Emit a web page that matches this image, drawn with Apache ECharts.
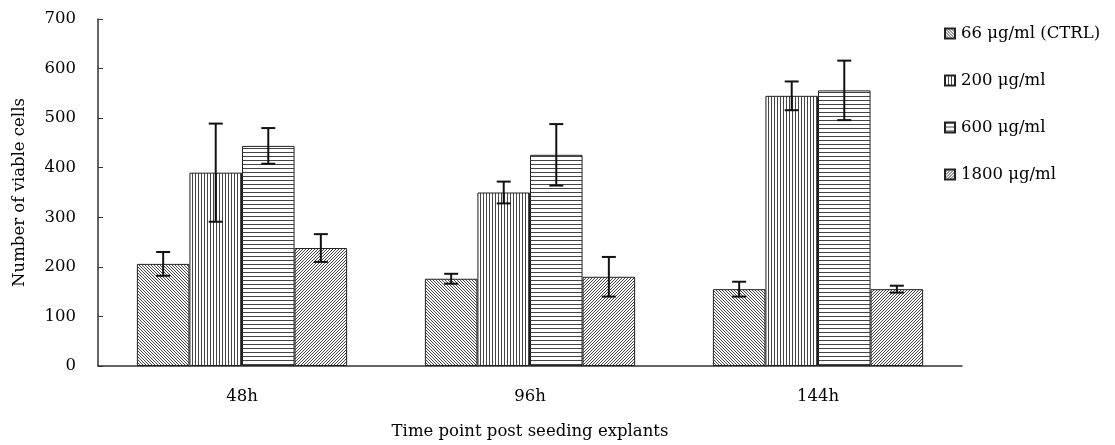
<!DOCTYPE html>
<html>
<head>
<meta charset="utf-8">
<title>Viable cells</title>
<script src="https://cdn.jsdelivr.net/npm/echarts@6/dist/echarts.min.js"></script>
<style>
  html, body { margin: 0; padding: 0; background: #fff; }
  #main { width: 1115px; height: 445px; }
</style>
</head>
<body>
<div id="main"></div>
<script>
// data
var timePoints = ['48h', '96h', '144h'];
var seriesNames = ['66 μg/ml (CTRL)', '200 μg/ml', '600 μg/ml', '1800 μg/ml'];
var ctrlMean = [206, 176, 155];
var ctrlErr = [24, 10, 15];
var dose200Mean = [390, 350, 545];
var dose200Err = [99, 22, 29];
var dose600Mean = [444, 426, 556];
var dose600Err = [36, 62, 60];
var dose1800Mean = [238, 180, 155];
var dose1800Err = [28, 40, 7];
var yTicks = { min: 0, max: 700, interval: 100 };

var means = [ctrlMean, dose200Mean, dose600Mean, dose1800Mean];
var errs = [ctrlErr, dose200Err, dose600Err, dose1800Err];
var catGap = 0.27;
var font = 'DejaVu Serif';
var fontSize = 16.5;

// hatch fills, drawn on small tiles
function makePattern(kind)
{
    var n = kind == 'h' ? 4 : 3;
    var c = document.createElement('canvas');
    c.width = n;
    c.height = n;
    var ctx = c.getContext('2d');
    ctx.fillStyle = '#fff';
    ctx.fillRect(0, 0, n, n);
    ctx.strokeStyle = '#444';
    ctx.lineWidth = 1;
    ctx.beginPath();
    if (kind == 'v') {
        ctx.moveTo(0.5, 0); ctx.lineTo(0.5, n);
    } else if (kind == 'h') {
        ctx.moveTo(0, 0.5); ctx.lineTo(n, 0.5);
    } else if (kind == 'back') {
        ctx.moveTo(-1, -1); ctx.lineTo(n + 1, n + 1);
        ctx.moveTo(-1, n - 1); ctx.lineTo(1, n + 1);
        ctx.moveTo(n - 1, -1); ctx.lineTo(n + 1, 1);
    } else {
        ctx.moveTo(-1, n + 1); ctx.lineTo(n + 1, -1);
        ctx.moveTo(-1, 1); ctx.lineTo(1, -1);
        ctx.moveTo(n - 1, n + 1); ctx.lineTo(n + 1, n - 1);
    }
    ctx.stroke();
    return { image: c, repeat: 'repeat' };
}

var fills = [makePattern('back'), makePattern('v'), makePattern('h'), makePattern('fwd')];

var errData = [];
for (var s = 0; s < means.length; s++) {
    for (var i = 0; i < timePoints.length; i++) {
        errData.push([i, s, means[s][i] - errs[s][i], means[s][i] + errs[s][i]]);
    }
}

var series = [];
for (var s = 0; s < means.length; s++) {
    series.push({
        name: seriesNames[s],
        type: 'bar',
        data: means[s],
        barGap: '0%',
        barCategoryGap: (catGap * 100) + '%',
        itemStyle: {
            color: fills[s],
            borderColor: '#222',
            borderWidth: 1
        },
        emphasis: { disabled: true }
    });
}

series.push({
    type: 'custom',
    data: errData,
    encode: { x: 0, y: [2, 3] },
    z: 5,
    silent: true,
    renderItem: function (params, api) {
        var idx = api.value(0);
        var band = api.size([1, 0])[0];
        var bw = band * (1 - catGap) / means.length;
        var cx = api.coord([idx, 0])[0] + (api.value(1) - (means.length - 1) / 2) * bw;
        var lo = api.coord([idx, api.value(2)])[1];
        var hi = api.coord([idx, api.value(3)])[1];
        var cap = 7;
        var st = { stroke: '#111', lineWidth: 2 };
        return {
            type: 'group',
            children: [
                { type: 'line', shape: { x1: cx, y1: lo, x2: cx, y2: hi }, style: st },
                { type: 'line', shape: { x1: cx - cap, y1: hi, x2: cx + cap, y2: hi }, style: st },
                { type: 'line', shape: { x1: cx - cap, y1: lo, x2: cx + cap, y2: lo }, style: st }
            ]
        };
    }
});

var myChart = echarts.init(document.getElementById('main'));

var option = {
    animation: false,
    textStyle: { fontFamily: font, color: '#000' },
    grid: { left: 98, right: 153, top: 19, bottom: 79 },
    legend: {
        orient: 'vertical',
        left: 939,
        top: 20,
        icon: 'rect',
        itemWidth: 10,
        itemHeight: 10,
        itemGap: 30,
        data: seriesNames,
        textStyle: { fontFamily: font, fontSize: fontSize, color: '#000', padding: [0, 0, 0, 1] }
    },
    xAxis: {
        type: 'category',
        data: timePoints,
        name: 'Time point post seeding explants',
        nameLocation: 'middle',
        nameGap: 57,
        nameTextStyle: { fontFamily: font, fontSize: fontSize, color: '#000' },
        axisLine: { lineStyle: { color: '#333', width: 1.5 } },
        axisTick: { inside: true, length: 5, lineStyle: { color: '#333' } },
        axisLabel: { margin: 22, fontFamily: font, fontSize: fontSize, color: '#000' }
    },
    yAxis: {
        type: 'value',
        min: yTicks.min,
        max: yTicks.max,
        interval: yTicks.interval,
        name: 'Number of viable cells',
        nameLocation: 'middle',
        nameGap: 70,
        nameTextStyle: { fontFamily: font, fontSize: fontSize, color: '#000' },
        axisLine: { show: true, lineStyle: { color: '#333', width: 1.5 } },
        axisTick: { show: true, inside: true, length: 5, lineStyle: { color: '#333' } },
        axisLabel: { margin: 22, fontFamily: font, fontSize: fontSize, color: '#000' },
        splitLine: { show: false }
    },
    series: series
};

myChart.setOption(option);
</script>
</body>
</html>
